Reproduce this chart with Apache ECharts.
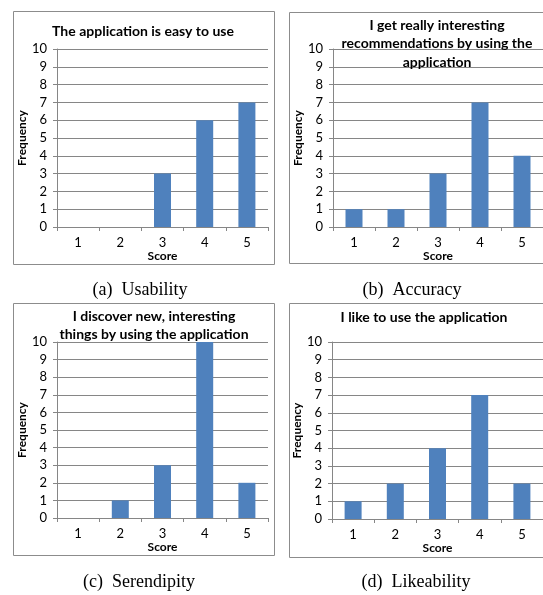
<!DOCTYPE html>
<html><head><meta charset="utf-8">
<script src="https://cdn.jsdelivr.net/npm/echarts@6/dist/echarts.min.js"></script>
<style>html,body{margin:0;padding:0;background:#fff}#c{width:543px;height:595px}</style>
</head><body><div id="c"></div>
<script>
var categories = ['1','2','3','4','5'];
var usability = [0, 0, 3, 6, 7];
var accuracy = [1, 1, 3, 7, 4];
var serendipity = [0, 1, 3, 10, 2];
var likeability = [1, 2, 4, 7, 2];
var yTicks = {min: 0, max: 10, interval: 1};
var titles = [
  'The application is easy to use',
  'I get really interesting\nrecommendations by using the\napplication',
  'I discover new, interesting\nthings by using the application',
  'I like to use the application'
];
var captions = ['(a)  Usability', '(b)  Accuracy', '(c)  Serendipity', '(d)  Likeability'];
var seriesData = [usability, accuracy, serendipity, likeability];

var font = 'Lato';
var grids = [
  {left: 57, top: 49, width: 211, height: 178},
  {left: 333, top: 49, width: 210, height: 178},
  {left: 57, top: 342, width: 211, height: 176},
  {left: 332, top: 342, width: 211, height: 177}
];
var titlePos = [
  {x: 143, y: 22}, {x: 437, y: 16}, {x: 154, y: 307}, {x: 424, y: 308}
];
var captionPos = [
  {x: 140, y: 290}, {x: 412, y: 290}, {x: 139, y: 582}, {x: 416, y: 582}
];
var boxes = [
  {x: 13, y: 11, w: 261, h: 253},
  {x: 289, y: 12, w: 260, h: 251},
  {x: 13, y: 303, w: 261, h: 252},
  {x: 289, y: 303, w: 260, h: 254}
];
var grey = '#868686';
var option = {
  animation: false,
  title: titles.map(function(t, i){
    return {text: t, left: titlePos[i].x, top: titlePos[i].y, textAlign: 'center',
      padding: 0,
      textStyle: {fontFamily: font, fontWeight: 'bold', fontSize: 14, color: '#000', lineHeight: 18.5}};
  }),
  grid: grids,
  xAxis: grids.map(function(g, i){
    return {type: 'category', gridIndex: i, data: categories,
      name: 'Score', nameLocation: 'middle', nameGap: 23,
      nameTextStyle: {fontFamily: font, fontWeight: 'bold', fontSize: 12, color: '#000'},
      axisLine: {lineStyle: {color: grey}},
      axisTick: {show: true, length: 4, lineStyle: {color: grey}},
      axisLabel: {fontFamily: font, fontSize: 13, color: '#000', margin: 9}};
  }),
  yAxis: grids.map(function(g, i){
    return {type: 'value', gridIndex: i, min: yTicks.min, max: yTicks.max, interval: yTicks.interval,
      name: 'Frequency', nameLocation: 'middle', nameGap: 27, nameRotate: 90,
      nameTextStyle: {fontFamily: font, fontWeight: 'bold', fontSize: 12, color: '#000'},
      axisLine: {show: true, lineStyle: {color: grey}},
      axisTick: {show: true, length: 4, lineStyle: {color: grey}},
      splitLine: {show: true, lineStyle: {color: grey, width: 1}},
      axisLabel: {fontFamily: font, fontSize: 13, color: '#000', margin: 10}};
  }),
  series: seriesData.map(function(d, i){
    return {type: 'bar', xAxisIndex: i, yAxisIndex: i, data: d, barWidth: 17,
      itemStyle: {color: '#4F81BD'}};
  }),
  graphic: boxes.map(function(b){
    return {type: 'rect', shape: {x: b.x + 0.5, y: b.y + 0.5, width: b.w, height: b.h},
      style: {fill: 'none', stroke: '#8c8c8c', lineWidth: 1}, z: -1};
  }).concat(captions.map(function(c, i){
    return {type: 'text', x: captionPos[i].x, y: captionPos[i].y,
      style: {text: c, font: '18px "Liberation Serif"', fill: '#000', textAlign: 'center', textVerticalAlign: 'middle'}};
  }))
};
echarts.init(document.getElementById('c')).setOption(option);
</script></body></html>
